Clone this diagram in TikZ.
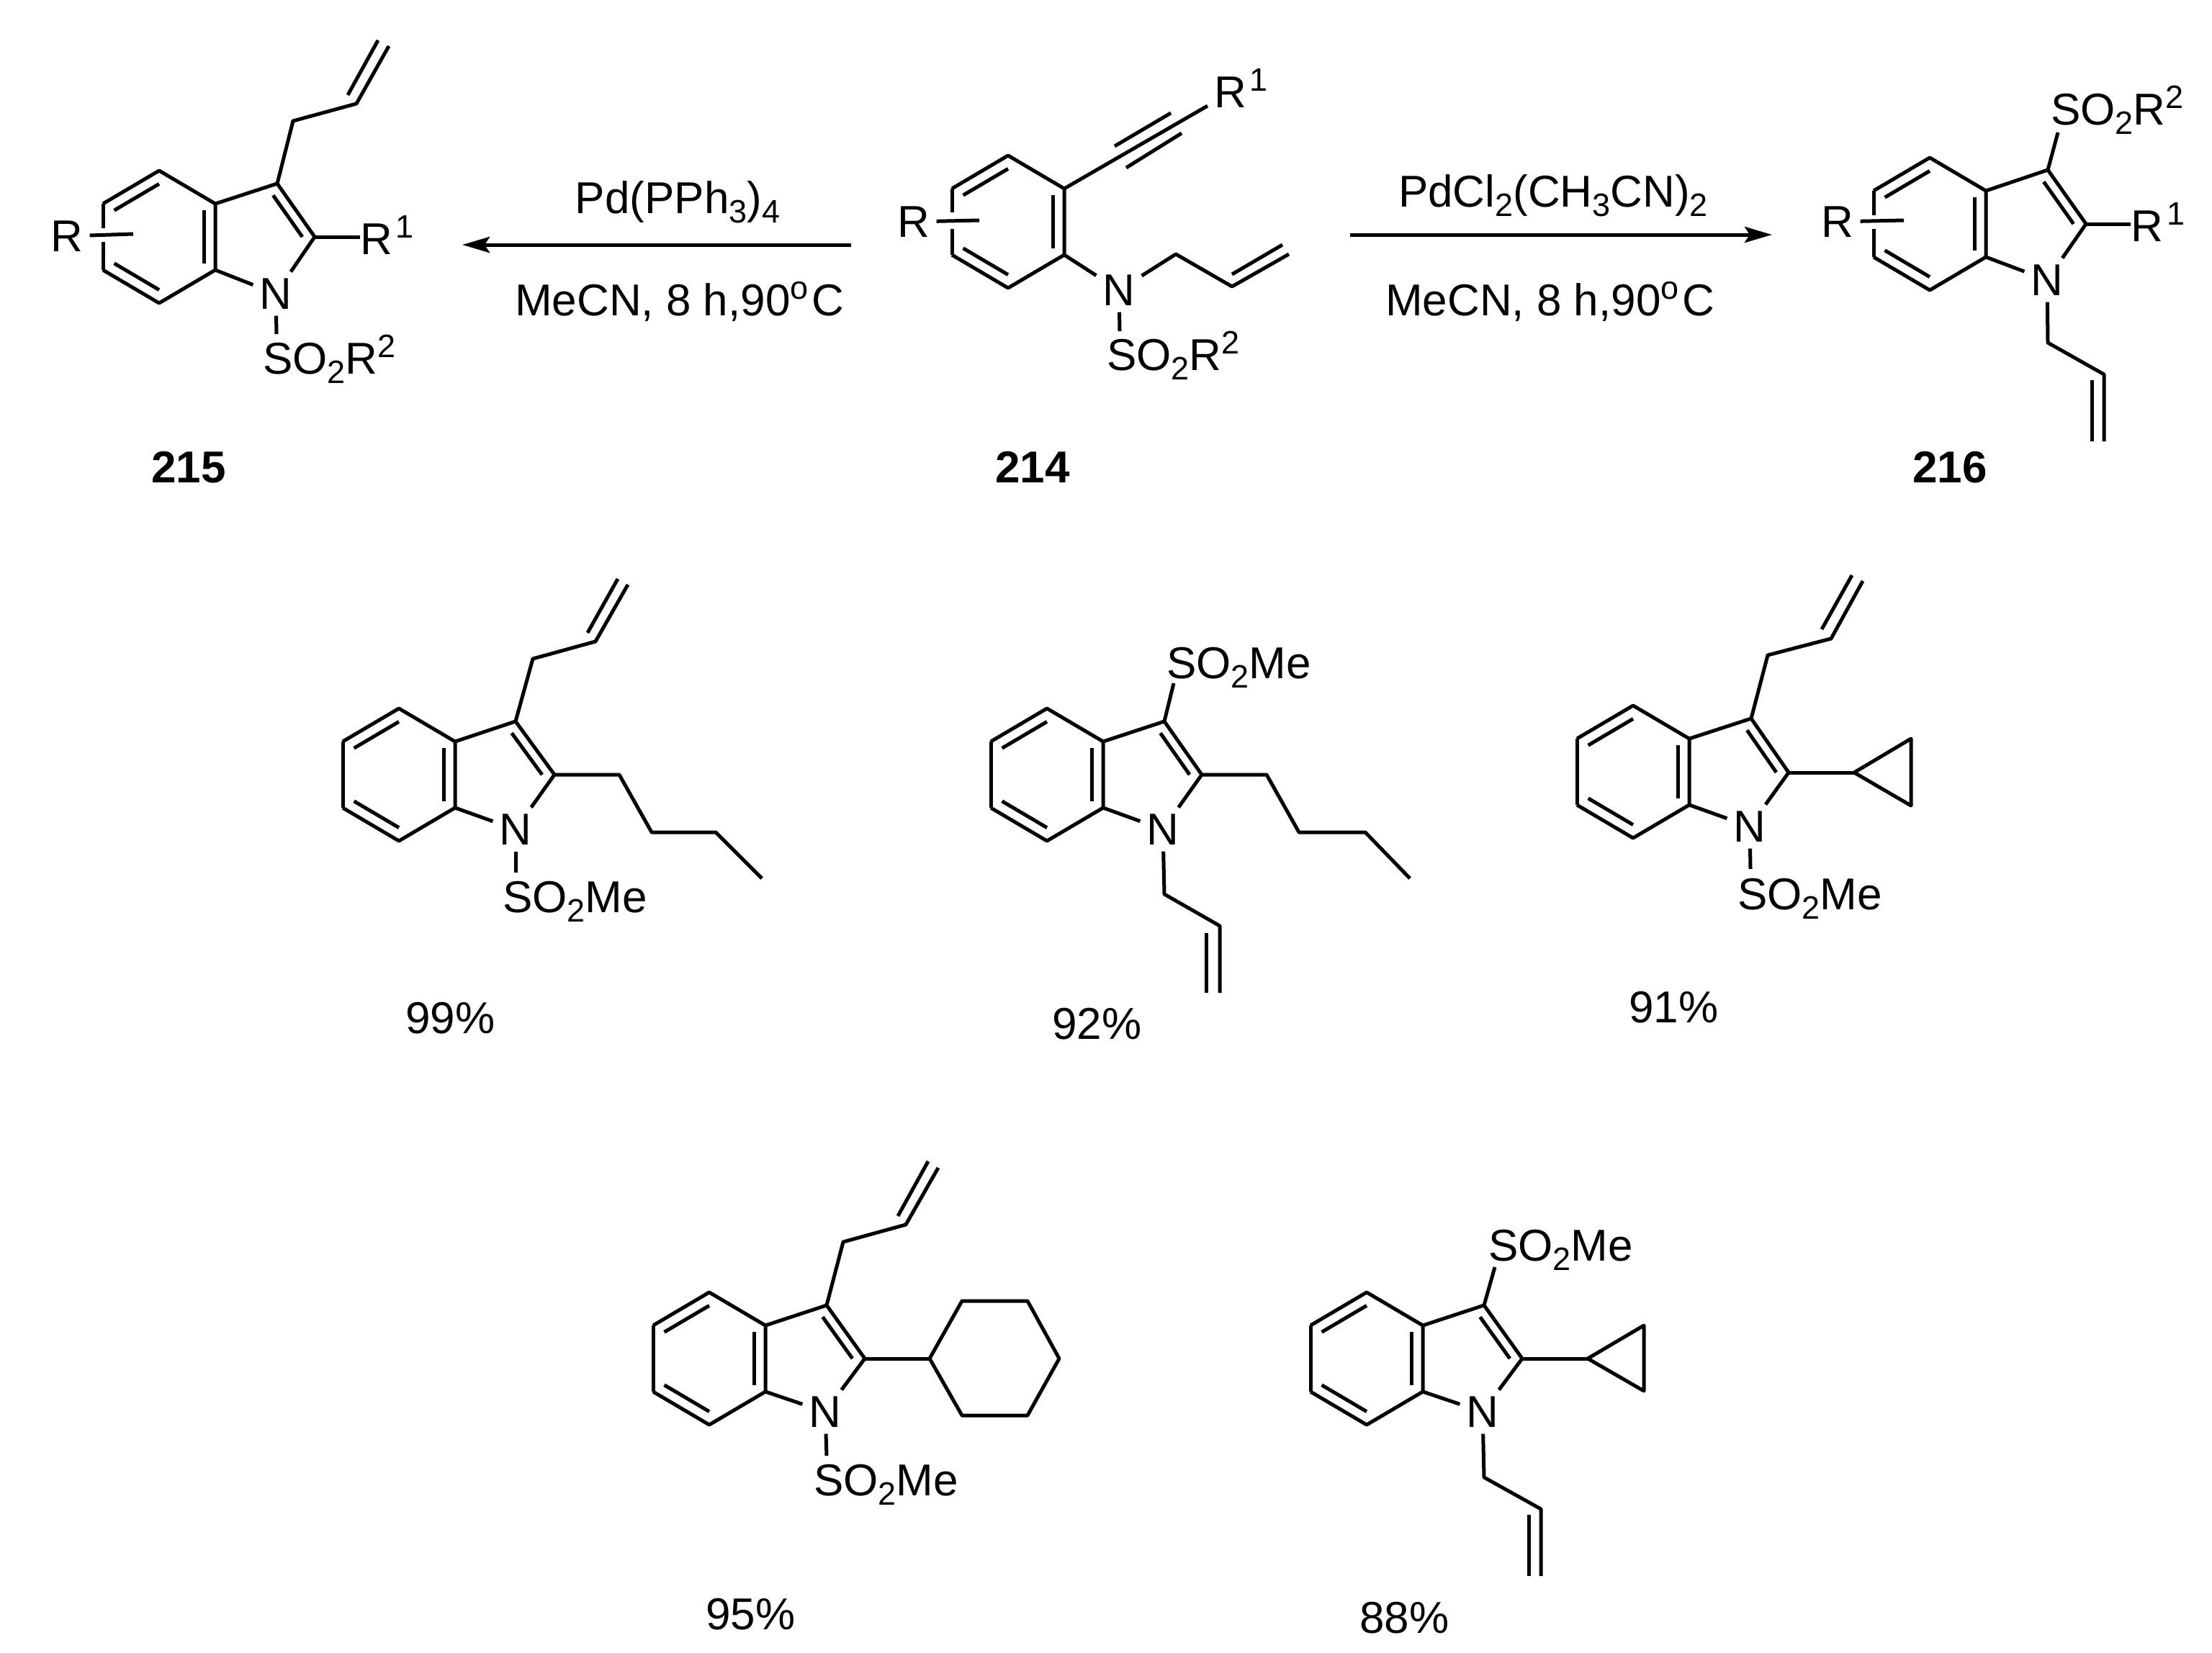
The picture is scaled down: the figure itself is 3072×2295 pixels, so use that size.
\documentclass[tikz,border=0pt]{standalone}
\usepackage{fontspec}
\setmainfont{Liberation Sans}
\usetikzlibrary{calc,arrows.meta}
\definecolor{ink}{HTML}{000000}
\newcommand{\subs}[1]{\raisebox{-13pt}{\fontsize{45}{45}\selectfont #1}}
\newcommand{\supr}[1]{\raisebox{23pt}{\fontsize{45}{45}\selectfont #1}}
\tikzset{
  bond/.style={draw=ink, line width=5pt, line join=round},
  rxn/.style={draw=ink, line width=5pt, -{Stealth[length=38pt,width=22pt,inset=7pt]}},
  atom/.style={text=ink, font=\fontsize{62}{72}\selectfont, inner sep=9pt, text depth=0pt},
  lab/.style={text=ink, font=\fontsize{62}{72}\selectfont, inner sep=0pt, anchor=base west},
  labm/.style={text=ink, font=\fontsize{62}{72}\selectfont, inner sep=0pt, anchor=base},
  labb/.style={text=ink, font=\fontsize{62}{72}\selectfont\bfseries, inner sep=0pt, anchor=base},
}
% name, ring centre x, ring centre y, half width
\newcommand{\benzring}[4]{
  \coordinate (#1c) at (#2,#3);
  \coordinate (#1t) at (#2,#3-92);
  \coordinate (#1ur) at (#2+#4,#3-46);
  \coordinate (#1lr) at (#2+#4,#3+46);
  \coordinate (#1b) at (#2,#3+92);
  \coordinate (#1ll) at (#2-#4,#3+46);
  \coordinate (#1ul) at (#2-#4,#3-46);
  \draw[bond] (#1ul) -- (#1t) -- (#1ur) -- (#1lr) -- (#1b) -- (#1ll);
  \draw[bond] ($(#1c)!.8!(#1ul)$) -- ($(#1c)!.8!(#1t)$);
  \draw[bond] ($(#1c)!.8!(#1ll)$) -- ($(#1c)!.8!(#1b)$);
  \draw[bond] ($(#1c)!.8!(#1ur)$) -- ($(#1c)!.8!(#1lr)$);
}
% name, ring centre x, ring centre y, half width, C3, C2, N
\newcommand{\indolering}[7]{
  \benzring{#1}{#2}{#3}{#4}
  \coordinate (#1f) at (#2+#4+60,#3);
  \coordinate (#1x) at (#5);
  \coordinate (#1y) at (#6);
  \node[atom] (#1n) at (#7) {N};
  \draw[bond] (#1ur) -- (#1x) -- (#1y) -- (#1n);
  \draw[bond] (#1lr) -- (#1n);
  \draw[bond] ($(#1f)!.78!(#1x)$) -- ($(#1f)!.78!(#1y)$);
}
\begin{document}
\begin{tikzpicture}[x=1pt,y=-1pt]
  \useasboundingbox (0,0) rectangle (3072,2295);

  % 215
  \indolering{d}{221}{329}{78}{385,255}{437,329}{383,408}
  \draw[bond] (dul) -- ++(0,34);
  \draw[bond] (dll) -- ++(0,-39);
  \node[atom] (dr) at (93,328) {R};
  \coordinate (de) at (185,325);
  \draw[bond] (dr) -- (de);
  \node[lab] (dra) at (500,353) {R\kern5pt\supr{1}};
  \draw[bond] (dy) -- (dy -| dra.west);
  \coordinate (ds) at (384,464);
  \draw[bond] (dn) -- (ds);
  \node[lab] (dso) at (365,519) {SO\subs{2}R\supr{2}};
  \coordinate (da) at (407,168);
  \coordinate (db) at (495,144);
  \draw[bond] (dx) -- (da) -- (db) -- (540,64);
  \draw[bond] (483,132) -- (525,56);
  \node[labb] (dno) at (262,670) {215};

  % 214
  \benzring{e}{1400}{308}{78}
  \node[atom] (en) at (1554,403) {N};
  \draw[bond] (elr) -- (en);
  \draw[bond] (eul) -- ++(0,33);
  \draw[bond] (ell) -- ++(0,-36);
  \node[atom] (er) at (1269,308) {R};
  \coordinate (ee) at (1360,306);
  \draw[bond] (er) -- (ee);
  \node[lab] (era) at (1686,149) {R\kern5pt\supr{1}};
  \coordinate (ef) at (1677,147);
  \draw[bond] (eur) -- (ef);
  \draw[bond] (1548,203) -- (1626,157);
  \draw[bond] (1564,233) -- (1641,185);
  \coordinate (eg) at (1633,353);
  \coordinate (eh) at (1711,398);
  \draw[bond] (en) -- (eg) -- (eh) -- (1790,353);
  \draw[bond] (1711,381) -- (1781,340);
  \coordinate (es) at (1555,460);
  \draw[bond] (en) -- (es);
  \node[lab] (eso) at (1537,514) {SO\subs{2}R\supr{2}};
  \node[labb] (eno) at (1434,670) {214};

  % 216
  \indolering{f}{2680}{311}{78}{2844,236}{2897,311}{2843,389}
  \draw[bond] (ful) -- ++(0,34);
  \draw[bond] (fll) -- ++(0,-39);
  \node[atom] (fr) at (2552,308) {R};
  \coordinate (fe) at (2644,306);
  \draw[bond] (fr) -- (fe);
  \node[lab] (fra) at (2959,335) {R\kern5pt\supr{1}};
  \draw[bond] (fy) -- (fy -| fra.west);
  \coordinate (fs) at (2858,184);
  \draw[bond] (fx) -- (fs);
  \node[lab] (fso) at (2848,173) {SO\subs{2}R\supr{2}};
  \coordinate (fa) at (2844,476);
  \coordinate (fb) at (2922,520);
  \draw[bond] (fn) -- (fa) -- (fb) -- (2922,613);
  \draw[bond] (2905,528) -- (2905,613);
  \node[labb] (fno) at (2708,670) {216};

  % arrows
  \coordinate (pa) at (1182,340);
  \coordinate (pb) at (642,340);
  \draw[rxn] (pa) -- (pb);
  \coordinate (qa) at (1875,326);
  \coordinate (qb) at (2461,326);
  \draw[rxn] (qa) -- (qb);
  \node[labm] (pt) at (941,296) {Pd(PPh\subs{3})\subs{4}};
  \node[lab] (pc) at (715,438) {MeCN, 8 h,90\supr{o}\kern5pt C};
  \node[labm] (qt) at (2157,287) {PdCl\subs{2}(CH\subs{3}CN)\subs{2}};
  \node[lab] (qc) at (1924,438) {MeCN, 8 h,90\supr{o}\kern5pt C};

  % 99%
  \indolering{g}{554}{1076}{78}{716,1002}{770,1076}{716,1152}
  \draw[bond] (gul) -- (gll);
  \coordinate (ga) at (860,1076);
  \coordinate (gb) at (905,1156);
  \coordinate (gc) at (994,1156);
  \draw[bond] (gy) -- (ga) -- (gb) -- (gc) -- (1058,1220);
  \coordinate (gd) at (740,915);
  \coordinate (ge) at (827,891);
  \draw[bond] (gx) -- (gd) -- (ge) -- (872,812);
  \draw[bond] (816,879) -- (858,804);
  \coordinate (gs) at (716,1212);
  \draw[bond] (gn) -- (gs);
  \node[lab] (gso) at (698,1267) {SO\subs{2}Me};
  \node[lab] (gno) at (563,1435) {99\%};

  % 92%
  \indolering{h}{1454}{1076}{78}{1617,1002}{1669,1076}{1615,1152}
  \draw[bond] (hul) -- (hll);
  \coordinate (ha) at (1759,1076);
  \coordinate (hb) at (1804,1156);
  \coordinate (hc) at (1896,1156);
  \draw[bond] (hy) -- (ha) -- (hb) -- (hc) -- (1958,1220);
  \coordinate (hs) at (1630,949);
  \draw[bond] (hx) -- (hs);
  \node[lab] (hso) at (1620,942) {SO\subs{2}Me};
  \coordinate (hd) at (1617,1242);
  \coordinate (he) at (1694,1286);
  \draw[bond] (hn) -- (hd) -- (he) -- (1694,1379);
  \draw[bond] (1675,1296) -- (1675,1379);
  \node[lab] (hno) at (1461,1443) {92\%};

  % 91%
  \indolering{i}{2268}{1072}{78}{2432,998}{2484,1073}{2430,1148}
  \draw[bond] (iul) -- (ill);
  \coordinate (ia) at (2575,1073);
  \draw[bond] (iy) -- (ia);
  \draw[bond] (ia) -- (2654,1026) -- (2654,1119) -- cycle;
  \coordinate (id) at (2455,910);
  \coordinate (ie) at (2543,887);
  \draw[bond] (ix) -- (id) -- (ie) -- (2587,807);
  \draw[bond] (2530,874) -- (2572,799);
  \coordinate (is) at (2431,1207);
  \draw[bond] (in) -- (is);
  \node[lab] (iso) at (2413,1263) {SO\subs{2}Me};
  \node[lab] (ino) at (2262,1420) {91\%};

  % 95%
  \indolering{j}{985}{1887}{78}{1148,1813}{1201,1887}{1146,1961}
  \draw[bond] (jul) -- (jll);
  \coordinate (ja) at (1291,1887);
  \draw[bond] (jy) -- (ja);
  \draw[bond] (ja) -- (1336,1807) -- (1427,1807) -- (1471,1887) -- (1427,1966) -- (1336,1966) -- cycle;
  \coordinate (jd) at (1171,1725);
  \coordinate (je) at (1258,1701);
  \draw[bond] (jx) -- (jd) -- (je) -- (1303,1622);
  \draw[bond] (1247,1689) -- (1289,1613);
  \coordinate (js) at (1148,2022);
  \draw[bond] (jn) -- (js);
  \node[lab] (jso) at (1130,2077) {SO\subs{2}Me};
  \node[lab] (jno) at (980,2263) {95\%};

  % 88%
  \indolering{k}{1898}{1887}{78}{2061,1813}{2114,1887}{2059,1961}
  \draw[bond] (kul) -- (kll);
  \coordinate (ka) at (2205,1887);
  \draw[bond] (ky) -- (ka);
  \draw[bond] (ka) -- (2283,1841) -- (2283,1932) -- cycle;
  \coordinate (ks) at (2076,1760);
  \draw[bond] (kx) -- (ks);
  \node[lab] (kso) at (2067,1751) {SO\subs{2}Me};
  \coordinate (kd) at (2061,2052);
  \coordinate (ke) at (2140,2096);
  \draw[bond] (kn) -- (kd) -- (ke) -- (2140,2189);
  \draw[bond] (2123,2104) -- (2123,2189);
  \node[lab] (kno) at (1888,2268) {88\%};
\end{tikzpicture}
\end{document}
